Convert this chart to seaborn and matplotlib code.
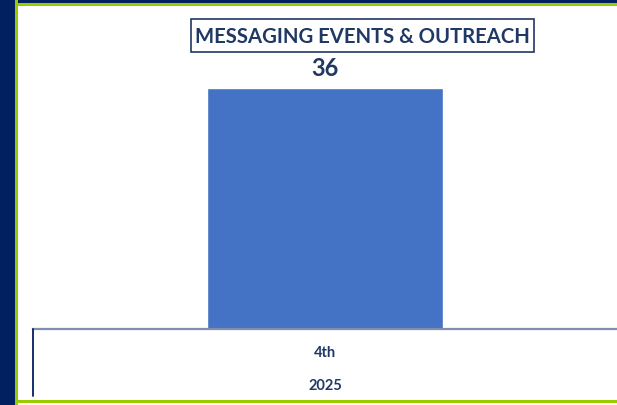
import matplotlib
matplotlib.use("Agg")
import matplotlib.pyplot as plt
from matplotlib.patches import Rectangle
from matplotlib.lines import Line2D
import seaborn as sns
import pandas as pd

# Chart data
quarters = ["4th"]
years = ["2025"]
events = [36]
title = "MESSAGING EVENTS & OUTREACH"

sns.set_style("white")
plt.rcParams["font.family"] = ["Lato", "DejaVu Sans"]

NAVY = "#002060"
TEXT = "#1F3864"
GREEN = "#99CC00"
BAR = "#4472C4"

W, H = 617, 406
fig = plt.figure(figsize=(W / 100, H / 100), dpi=100)
fig.patch.set_facecolor("white")

def fx(px):
    return px / W

def fy(py):
    return 1 - py / H

# Frame: navy strip on the left and top, green border inside it
fig.add_artist(Rectangle((0, 0), fx(15), 1, transform=fig.transFigure,
                         facecolor=NAVY, edgecolor="none", zorder=0))
fig.add_artist(Rectangle((0, fy(3.5)), 1, 3.5 / H, transform=fig.transFigure,
                         facecolor=NAVY, edgecolor="none", zorder=0))
fig.add_artist(Rectangle((fx(15), fy(6.5)), 1, 3 / H, transform=fig.transFigure,
                         facecolor=GREEN, edgecolor="none", zorder=0))
fig.add_artist(Rectangle((fx(15), 0), 2.5 / W, 1, transform=fig.transFigure,
                         facecolor=GREEN, edgecolor="none", zorder=0))
fig.add_artist(Rectangle((fx(15), fy(404)), 1, 3 / H, transform=fig.transFigure,
                         facecolor=GREEN, edgecolor="none", zorder=0))

# Plot area
ax_left, ax_right = 33, 617
ax_top, ax_bottom = 29, 329.5
ax = fig.add_axes([fx(ax_left), fy(ax_bottom),
                   (ax_right - ax_left) / W, (ax_bottom - ax_top) / H])
ax.patch.set_alpha(0)

df = pd.DataFrame({"quarter": quarters, "events": events})
sns.barplot(data=df, x="quarter", y="events", color=BAR, width=0.404,
            saturation=1, ax=ax)

ax.set_xlim(-0.5, 0.5)
ax.set_ylim(0, 45)
ax.set_yticks([])
ax.set_xlabel("")
ax.set_ylabel("")
for side in ["left", "right", "top"]:
    ax.spines[side].set_visible(False)
ax.spines["bottom"].set_color("#7F8DB0")
ax.spines["bottom"].set_linewidth(1.6)
ax.tick_params(axis="x", length=0, pad=12)
ax.set_xticks(range(len(quarters)))
ax.set_xticklabels(quarters, fontsize=10.5, fontweight="bold", color=TEXT)

# Year row beneath the quarter labels
for i, yr in enumerate(years):
    ax.annotate(yr, xy=(i, 0), xycoords=("data", "axes fraction"),
                xytext=(0, -40.5), textcoords="offset points",
                ha="center", va="center", fontsize=10.5, fontweight="bold",
                color=TEXT)

# Outer edge of the category axis
fig.add_artist(Line2D([fx(33), fx(33)], [fy(330), fy(397)],
                      transform=fig.transFigure, color=NAVY, lw=1.3))

# Value labels
for i, v in enumerate(events):
    ax.annotate(f"{v}", xy=(i, v), xytext=(0, 15), textcoords="offset points",
                ha="center", va="center", fontsize=17, fontweight="bold",
                color=TEXT)

# Boxed title
fig.add_artist(Rectangle((fx(191), fy(53)), (534 - 191) / W, 33 / H,
                         transform=fig.transFigure, facecolor="white",
                         edgecolor=TEXT, linewidth=1.2, zorder=3))
fig.text(fx(362.5), fy(37), title, ha="center", va="center", fontsize=14.6,
         fontweight="bold", color=TEXT, zorder=4)

fig.savefig("out.png", dpi=100)
